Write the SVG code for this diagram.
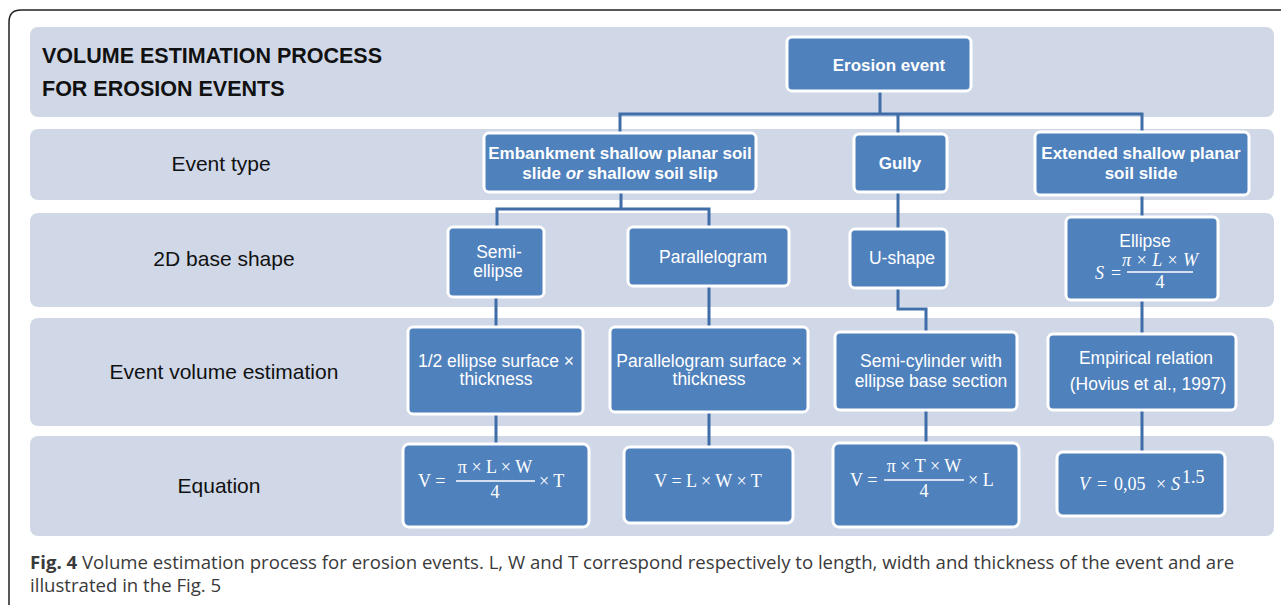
<svg xmlns="http://www.w3.org/2000/svg" width="1281" height="605" viewBox="0 0 1281 605">
<style>
.band{fill:#D0D8E8}
.node{fill:#4F81BD;stroke:#FFFFFF;stroke-width:3}
.t{font-family:"Liberation Sans",Arial,sans-serif;fill:#FFFFFF;text-anchor:middle;font-size:17.5px}
.tb{font-family:"Liberation Sans",Arial,sans-serif;fill:#FFFFFF;text-anchor:middle;font-size:17px;font-weight:bold}
.lvl{font-family:"Liberation Sans",Arial,sans-serif;fill:#111111;text-anchor:middle;font-size:21px}
.title{font-family:"Liberation Sans",Arial,sans-serif;fill:#111111;font-size:21.5px;font-weight:bold}
.m{font-family:"Liberation Serif","Times New Roman",serif;fill:#FFFFFF;font-size:18px}
.mc{font-family:"Liberation Serif","Times New Roman",serif;fill:#FFFFFF;font-size:18px;text-anchor:middle}
.bar{stroke:#FFFFFF;stroke-width:1.4}
.conn path{fill:none;stroke:#3E6DA7;stroke-width:3}
.cap{font-family:"Open Sans","Liberation Sans",sans-serif;fill:#3A3A3A;font-size:18.6px}
</style>
<path d="M9,605 V22 Q9,10 21,10 H1281" fill="none" stroke="#222222" stroke-width="1.5"/>
<g id="bands">
<rect class="band" x="30" y="27" width="1244" height="90" rx="8"/>
<rect class="band" x="30" y="129" width="1244" height="71" rx="8"/>
<rect class="band" x="30" y="213" width="1244" height="94" rx="8"/>
<rect class="band" x="30" y="318" width="1244" height="108" rx="8"/>
<rect class="band" x="30" y="436" width="1244" height="100" rx="8"/>
</g>
<g id="labels">
<text class="title" x="42" y="63">VOLUME ESTIMATION PROCESS</text>
<text class="title" x="42" y="96">FOR EROSION EVENTS</text>
<text class="lvl" x="221" y="171">Event type</text>
<text class="lvl" x="224" y="266">2D base shape</text>
<text class="lvl" x="224" y="379">Event volume estimation</text>
<text class="lvl" x="219" y="493">Equation</text>
</g>
<g id="connectors" class="conn">
<path d="M880,91 V114"/>
<path d="M620,133 V114 H1142 V131"/>
<path d="M898,114 V134"/>
<path d="M621,192 V209"/>
<path d="M497,227 V209 H709 V227"/>
<path d="M898,192 V229"/>
<path d="M1142,195 V217"/>
<path d="M496,297 V327"/>
<path d="M709,286 V327"/>
<path d="M898,288 V309 H926 V332"/>
<path d="M1142,300 V334"/>
<path d="M496,414 V444"/>
<path d="M709,412 V447"/>
<path d="M926,410 V443"/>
<path d="M1142,410 V452"/>
</g>
<g id="erosion-event">
<rect class="node" x="787" y="37" width="184" height="54" rx="5"/>
<text class="tb" x="889" y="71">Erosion event</text>
</g>
<g id="embankment">
<rect class="node" x="484" y="133" width="272" height="59" rx="5"/>
<text class="tb" x="620" y="159">Embankment shallow planar soil</text>
<text class="tb" x="620" y="179">slide <tspan font-style="italic">or</tspan> shallow soil slip</text>
</g>
<g id="gully">
<rect class="node" x="854" y="134" width="93" height="58" rx="5"/>
<text class="tb" x="900" y="169">Gully</text>
</g>
<g id="extended">
<rect class="node" x="1035" y="132" width="214" height="63" rx="5"/>
<text class="tb" x="1141" y="159">Extended shallow planar</text>
<text class="tb" x="1141" y="179">soil slide</text>
</g>
<g id="semi-ellipse">
<rect class="node" x="448" y="227" width="96" height="70" rx="5"/>
<text class="t" x="499" y="258">Semi-</text>
<text class="t" x="498" y="277">ellipse</text>
</g>
<g id="parallelogram">
<rect class="node" x="628" y="227" width="161" height="59" rx="5"/>
<text class="t" x="713" y="263">Parallelogram</text>
</g>
<g id="u-shape">
<rect class="node" x="850" y="229" width="97" height="59" rx="5"/>
<text class="t" x="902" y="264">U-shape</text>
</g>
<g id="ellipse">
<rect class="node" x="1066" y="217" width="152" height="83" rx="5"/>
<text class="t" x="1145" y="247">Ellipse</text>
<text class="m" x="1095" y="279" font-style="italic" font-size="17">S</text>
<text class="m" x="1111" y="279" font-size="17">=</text>
<line class="bar" x1="1127" y1="272" x2="1193" y2="272"/>
<text class="mc" x="1160" y="266" font-style="italic" font-size="12.5">π × L × W</text>
<text class="mc" x="1160" y="288" font-size="12">4</text>
</g>
<g id="half-ellipse-surface">
<rect class="node" x="408" y="327" width="175" height="87" rx="5"/>
<text class="t" x="496" y="367">1/2 ellipse surface ×</text>
<text class="t" x="496" y="385">thickness</text>
</g>
<g id="parallelogram-surface">
<rect class="node" x="610" y="327" width="198" height="85" rx="5"/>
<text class="t" x="709" y="367">Parallelogram surface ×</text>
<text class="t" x="709" y="385">thickness</text>
</g>
<g id="semi-cylinder">
<rect class="node" x="835" y="332" width="182" height="78" rx="5"/>
<text class="t" x="931" y="367">Semi-cylinder with</text>
<text class="t" x="931" y="387">ellipse base section</text>
</g>
<g id="empirical">
<rect class="node" x="1048" y="334" width="188" height="76" rx="5"/>
<text class="t" x="1146" y="364">Empirical relation</text>
<text class="t" x="1148" y="390" font-size="14.8">(Hovius et al., 1997)</text>
</g>
<g id="eq-half-ellipse">
<rect class="node" x="403" y="444" width="186" height="83" rx="6"/>
<text class="m" x="418" y="487">V =</text>
<text class="mc" x="495" y="473">π × L × W</text>
<line class="bar" x1="456" y1="481" x2="535" y2="481"/>
<text class="mc" x="495" y="498">4</text>
<text class="m" x="539" y="487">× T</text>
</g>
<g id="eq-parallelogram">
<rect class="node" x="624" y="447" width="169" height="76" rx="6"/>
<text class="mc" x="708" y="487">V = L × W × T</text>
</g>
<g id="eq-semi-cylinder">
<rect class="node" x="833" y="443" width="186" height="84" rx="6"/>
<text class="m" x="850" y="486">V =</text>
<text class="mc" x="924" y="472">π × T × W</text>
<line class="bar" x1="884" y1="480" x2="964" y2="480"/>
<text class="mc" x="924" y="497">4</text>
<text class="m" x="968" y="486">× L</text>
</g>
<g id="eq-empirical">
<rect class="node" x="1057" y="452" width="168" height="64" rx="6"/>
<text class="m" x="1079" y="490" font-size="19" font-style="italic">V</text>
<text class="m" x="1097" y="490" font-size="19">=</text>
<text class="m" x="1114" y="490" font-size="19">0,05</text>
<text class="m" x="1156" y="490" font-size="19">×</text>
<text class="m" x="1171" y="490" font-size="19" font-style="italic">S</text>
<text class="m" x="1182" y="483" font-size="12">1.5</text>
</g>
<g id="caption">
<text class="cap" x="30" y="569"><tspan font-weight="bold">Fig. 4</tspan> Volume estimation process for erosion events. L, W and T correspond respectively to length, width and thickness of the event and are</text>
<text class="cap" x="30" y="592">illustrated in the Fig. 5</text>
</g>
</svg>
